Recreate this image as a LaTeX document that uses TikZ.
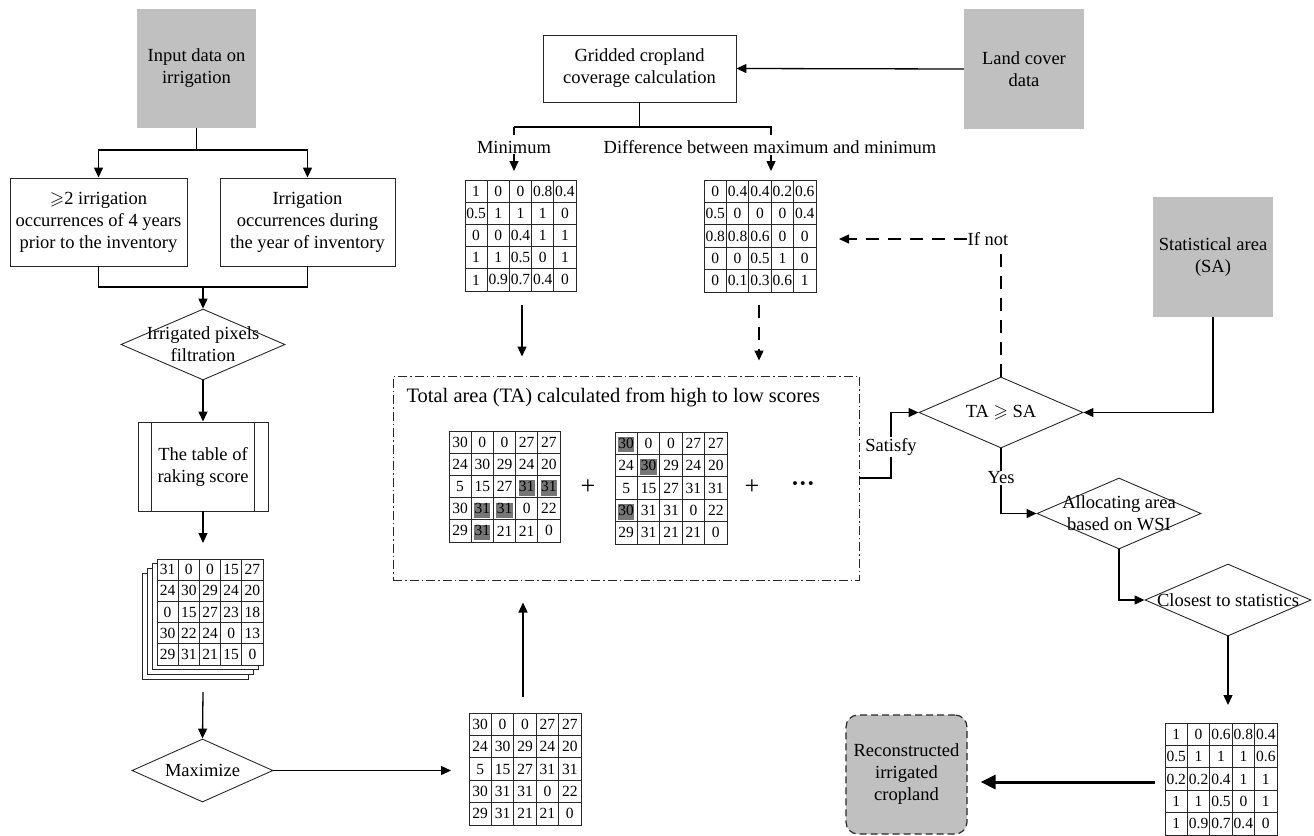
\documentclass[tikz,border=0pt]{standalone}
\usepackage{amssymb}
\usepackage{fontspec}
\setmainfont{Liberation Serif}
\usetikzlibrary{arrows.meta,shapes.geometric,calc}
\definecolor{boxgray}{RGB}{192,192,192}
\definecolor{hlgray}{RGB}{118,118,118}
\definecolor{ln}{RGB}{40,40,40}
\tikzset{
  base/.style={font=\fontsize{18.5}{22}\selectfont, align=center, text=black},
  box/.style={base, draw=ln, line width=0.9pt, inner sep=0, rectangle},
  graybox/.style={base, fill=boxgray, inner sep=0, rectangle},
  dia/.style={draw=ln, diamond, inner sep=0, line width=0.9pt},
  lbl/.style={base, inner sep=1pt},
  arr/.style={draw=black, -{Triangle[length=10pt,width=9pt]}, line width=1.3pt},
  conn/.style={draw=black, line width=1.3pt},
  dsh/.style={dash pattern=on 13pt off 9pt},
  cellnum/.style={font=\fontsize{15.5}{16}\selectfont, inner sep=0, text=black},
  gline/.style={draw=ln, line width=1pt},
}
\newcommand\mygrid[5]{%
  \node[draw=ln, line width=1pt, inner sep=0, minimum width={5*#4pt}, minimum height={5*#4pt}, anchor=north west, fill=none] (#1) at (#2,#3) {};
  \foreach \kk in {1,...,4} {
    \draw[gline] (#2+\kk*#4, #3) -- ++(0, 5*#4);
    \draw[gline] (#2, #3+\kk*#4) -- ++(5*#4, 0);
  }
  \foreach \row [count=\rr] in {#5} {
    \foreach \vv [count=\cc] in \row {
      \node[cellnum] at (#2+\cc*#4-0.5*#4, #3+\rr*#4-0.5*#4) {\vv};
    }
  }
}
\newcommand\hlcell[5]{% x y s r c
  \fill[hlgray] (#1+#5*#3-#3+3, #2+#4*#3-#3+5) rectangle (#1+#5*#3-3, #2+#4*#3-2);
}
\begin{document}
\begin{tikzpicture}[x=1pt,y=-1pt]
\useasboundingbox (0,0) rectangle (1314,835);
\fill[white] (0,0) rectangle (1314,835);

% ---------- left column ----------
\node[graybox, minimum width=119pt, minimum height=119pt] (inp) at (196.5,68.5) {Input data on\\irrigation};
\node[box, minimum width=177pt, minimum height=88pt] (b1) at (98.5,222) {$\geqslant$2 irrigation\\occurrences of 4 years\\prior to the inventory};
\node[box, minimum width=175pt, minimum height=88pt] (b2) at (307.5,222) {Irrigation\\occurrences during\\the year of inventory};
\coordinate (j1) at (196.5,150);
\draw[conn] (inp.south) -- (j1);
\draw[arr] (j1) -| (b1.north);
\draw[arr] (j1) -| (b2.north);

\node[dia, minimum width=164pt, minimum height=71pt] (d1) at (203,344.5) {};
\node[lbl] (d1t) at (d1.center) {Irrigated pixels\\filtration};
\coordinate (j2) at (203,287);
\draw[conn] (b1.south) |- (j2) -| (b2.south);
\draw[arr] (j2) -- (d1.north);

\node[box, minimum width=130pt, minimum height=89pt] (t1) at (203,466.5) {The table of\\raking score};
\draw[ln, line width=0.9pt] ([xshift=14pt]t1.north west) -- ([xshift=14pt]t1.south west);
\draw[ln, line width=0.9pt] ([xshift=-14pt]t1.north east) -- ([xshift=-14pt]t1.south east);
\draw[arr] (d1.south) -- (t1.north);

% stack
\foreach \k in {3,2,1} {
  \draw[ln, line width=1pt, fill=white] (157-4.7*\k, 559+4.7*\k) rectangle ++(106,106);
}
\fill[white] (157,559) rectangle ++(106,106);
\mygrid{gs}{157}{559}{21.2}{{31,0,0,15,27},{24,30,29,24,20},{0,15,27,23,18},{30,22,24,0,13},{29,31,21,15,0}}
\coordinate (stkin) at (203,543);
\coordinate (stkout) at (203,692);
\draw[arr] (t1.south) -- (stkin);

\node[dia, minimum width=141pt, minimum height=63pt] (mx) at (202.5,770.5) {};
\node[lbl] (mxt) at (mx.center) {Maximize};
\draw[arr] (stkout) -- (mx.north);

% bottom grid
\mygrid{gb}{469}{713}{22.4}{{30,0,0,27,27},{24,30,29,24,20},{5,15,27,31,31},{30,31,31,0,22},{29,31,21,21,0}}
\draw[arr, shorten >=18pt] (mx.east) -- (mx.east -| gb.west);

% ---------- dashed TA box ----------
\node[draw=ln, line width=1pt, dash pattern=on 9pt off 3pt on 1.5pt off 3pt, minimum width=466pt, minimum height=204pt, inner sep=0] (tabox) at (626,478) {};
\node[base, anchor=west, font=\fontsize{20.5}{24}\selectfont] (tatitle) at (403,397) {Total area (TA) calculated from high to low scores};
\coordinate (gbup) at (523,697);
\draw[arr, shorten >=22pt] (gbup) -- (gbup |- tabox.south);

\hlcell{449}{431}{22.2}{3}{4}
\hlcell{449}{431}{22.2}{3}{5}
\hlcell{449}{431}{22.2}{4}{2}
\hlcell{449}{431}{22.2}{4}{3}
\hlcell{449}{431}{22.2}{5}{2}
\mygrid{ga}{449}{431}{22.2}{{30,0,0,27,27},{24,30,29,24,20},{5,15,27,31,31},{30,31,31,0,22},{29,31,21,21,0}}
\hlcell{615}{432}{22.4}{1}{1}
\hlcell{615}{432}{22.4}{2}{2}
\hlcell{615}{432}{22.4}{4}{1}
\mygrid{gc}{615}{432}{22.4}{{30,0,0,27,27},{24,30,29,24,20},{5,15,27,31,31},{30,31,31,0,22},{29,31,21,21,0}}
\node[base, font=\fontsize{26}{26}\selectfont, inner sep=0] (plus1) at (588,487) {+};
\node[base, font=\fontsize{26}{26}\selectfont, inner sep=0] (plus2) at (752,487) {+};
\node[base, font=\fontsize{24}{24}\bfseries, inner sep=0] (dots) at (803,487) {···};

% ---------- top middle ----------
\node[box, minimum width=193pt, minimum height=67pt] (gcc) at (639.5,68.5) {Gridded cropland\\coverage calculation};
\node[graybox, minimum width=120pt, minimum height=120pt] (lc) at (1024,69) {Land cover\\data};
\draw[arr] (lc.west) -- (gcc.east);
\coordinate (j3) at (639.5,127);
\coordinate (jmin) at (514,127);
\coordinate (jdif) at (771,127);
\draw[conn] (gcc.south) -- (j3);
\draw[conn] (jmin) -- ++(0,8) (jmin) -- (jdif) -- ++(0,8);
\node[lbl] (minlbl) at (514,147) {Minimum};
\node[lbl] (diflbl) at (770,147) {Difference between maximum and minimum};

\mygrid{gmin}{465}{180}{22.2}{{1,0,0,0.8,0.4},{0.5,1,1,1,0},{0,0,0.4,1,1},{1,1,0.5,0,1},{1,0.9,0.7,0.4,0}}
\mygrid{gdiff}{704}{180}{22.4}{{0,0.4,0.4,0.2,0.6},{0.5,0,0,0,0.4},{0.8,0.8,0.6,0,0},{0,0,0.5,1,0},{0,0.1,0.3,0.6,1}}
\draw[arr, shorten >=9pt] (minlbl.south) -- (minlbl.south |- gmin.north);
\draw[arr, shorten >=9pt] (jdif |- diflbl.south) -- (jdif |- gdiff.north);

\coordinate (minout) at (522,305);
\coordinate (difout) at (759,305);
\draw[arr, shorten >=19pt] (minout) -- (minout |- tabox.north);
\draw[arr, dsh, shorten >=15pt] (difout) -- (difout |- tabox.north);

% ---------- right side ----------
\node[dia, minimum width=164pt, minimum height=71pt] (ta) at (1001,412.5) {};
\node[lbl] (tat) at (ta.center) {TA $\geqslant$ SA};
\node[graybox, minimum width=120pt, minimum height=120pt] (sa) at (1213,257) {Statistical area\\(SA)};
\draw[arr] (sa.south) |- (ta.east);

\node[lbl] (ifn) at (988,239) {If not};
\draw[conn, dsh] (ta.north) -- (ta.north |- ifn.south);
\draw[arr, dsh, shorten >=22pt] (ifn.west) -- (ifn.west -| gdiff.east);

\coordinate (sat0) at (859,478);
\coordinate (sat1) at (891,478);
\draw[arr] (sat0) -- (sat1) -- (sat1 |- ta.west) -- (ta.west);
\node[lbl, fill=white] (satl) at (891,447) {Satisfy};

\node[dia, minimum width=164pt, minimum height=71pt] (al) at (1119,513.5) {};
\node[lbl] (alt) at (al.center) {Allocating area\\based on WSI};
\draw[arr] (ta.south) |- (al.west);
\node[lbl, fill=white] (yes) at (1001,478) {Yes};

\node[dia, minimum width=166pt, minimum height=72pt] (cl) at (1228,600) {};
\node[lbl] (clt) at (cl.center) {Closest to statistics};
\draw[arr] (al.south) |- (cl.west);

\mygrid{gr}{1165}{723}{22.4}{{1,0,0.6,0.8,0.4},{0.5,1,1,1,0.6},{0.2,0.2,0.4,1,1},{1,1,0.5,0,1},{1,0.9,0.7,0.4,0}}
\draw[arr, shorten >=18pt] (cl.south) -- (cl.south |- gr.north);

\node[base, draw=ln, line width=1.2pt, dash pattern=on 7pt off 4pt, fill=boxgray, rounded corners=12pt, minimum width=121pt, minimum height=119pt, inner sep=0] (rec) at (906.5,774.5) {Reconstructed\\irrigated\\cropland};
\coordinate (grl) at (1165,782);
\draw[-{Triangle[length=15pt,width=14pt]}, line width=3pt, shorten <=10pt, shorten >=13pt] (grl) -- (grl -| rec.east);
\end{tikzpicture}
\end{document}
